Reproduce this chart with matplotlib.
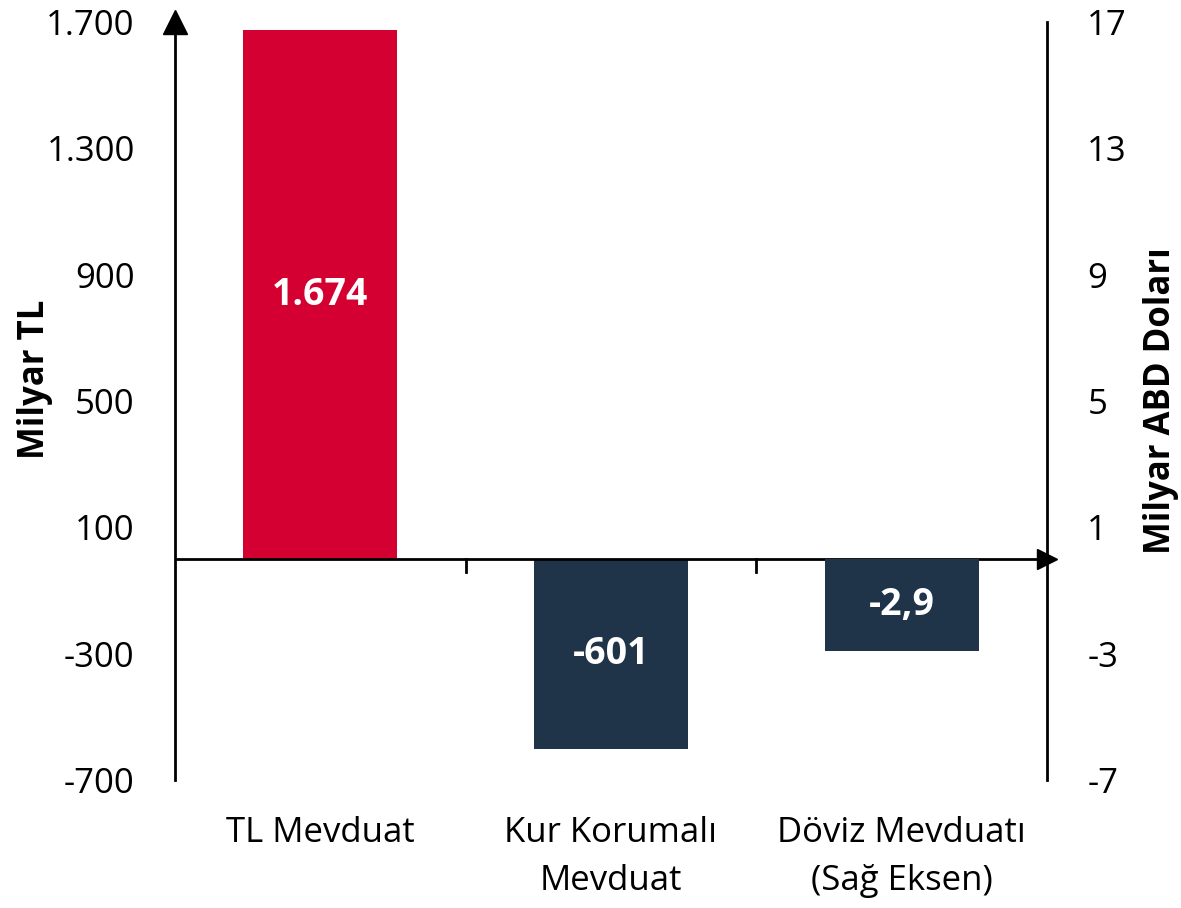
import matplotlib
matplotlib.use("Agg")
import matplotlib.pyplot as plt
import matplotlib.transforms as mtransforms

plt.rcParams['font.family'] = ['Open Sans', 'DejaVu Sans']

categories = ["TL Mevduat", "Kur Korumalı\nMevduat", "Döviz Mevduatı\n(Sağ Eksen)"]
left_values = [1674, -601]          # Milyar TL
right_values = [-2.9]               # Milyar ABD Doları
left_labels = ["1.674", "-601"]
right_labels = ["-2,9"]
left_ticks = [-700, -300, 100, 500, 900, 1300, 1700]
left_ticklabels = ["-700", "-300", "100", "500", "900", "1.300", "1.700"]
right_ticks = [-7, -3, 1, 5, 9, 13, 17]
colors = ["#D50032", "#1F3349", "#1F3349"]

fig = plt.figure(figsize=(11.81, 9.08), dpi=100)
ax = fig.add_axes([175/1181, 1 - 780/908, (1047-175)/1181, (780-22)/908])
ax2 = ax.twinx()

x = list(range(len(categories)))
w = 0.53
ax.bar(x[:2], left_values, width=w, color=colors[:2], zorder=2)
ax2.bar(x[2:], right_values, width=w, color=colors[2:], zorder=2)

ax.set_xlim(-0.5, 2.5)
ax.set_ylim(-700, 1700)
ax2.set_ylim(-7, 17)

fs = 25
ax.set_yticks(left_ticks)
ax.set_yticklabels(left_ticklabels, fontsize=fs)
ax2.set_yticks(right_ticks)
ax2.set_yticklabels([str(t) for t in right_ticks], fontsize=fs)
ax.tick_params(axis='y', length=0, pad=29)
ax2.tick_params(axis='y', length=0, pad=29)

ax.set_xticks(x)
ax.set_xticklabels(categories, fontsize=fs, linespacing=1.55)
ax.tick_params(axis='x', length=0, pad=26)

for a in (ax, ax2):
    for s in ('top', 'bottom'):
        a.spines[s].set_visible(False)
ax2.spines['left'].set_visible(False)
ax.spines['right'].set_visible(False)
ax.spines['left'].set_linewidth(2)
ax2.spines['right'].set_linewidth(2)

# zero line with arrow
ax.axhline(0, color='black', lw=2, zorder=3)
ax.plot([1], [0], marker='>', markersize=15, color='black',
        transform=mtransforms.blended_transform_factory(ax.transAxes, ax.transData),
        clip_on=False, zorder=4)
# arrow at top of left axis
ax.plot([0], [1], marker='^', markersize=17, color='black', transform=ax.transAxes,
        clip_on=False, zorder=4)
# boundary tick marks
for b in (0.5, 1.5):
    ax.plot([b, b], [0, -40], color='black', lw=2, zorder=3)

# value labels
for xi, v, lab in zip(x[:2], left_values, left_labels):
    ax.text(xi, v / 2, lab, ha='center', va='center',
            color='white', fontsize=27, fontweight='bold', zorder=5)
ax2.text(x[2], right_values[0] / 2, right_labels[0], ha='center', va='center',
         color='white', fontsize=27, fontweight='bold', zorder=5)

ax.set_ylabel("Milyar TL", fontsize=fs, fontweight='bold')
ax.yaxis.set_label_coords(-0.14, 0.528)
ax2.set_ylabel("Milyar ABD Doları", fontsize=fs, fontweight='bold', rotation=90)
ax2.yaxis.set_label_coords(1.11, 0.5)

fig.savefig("out.png", dpi=100)
